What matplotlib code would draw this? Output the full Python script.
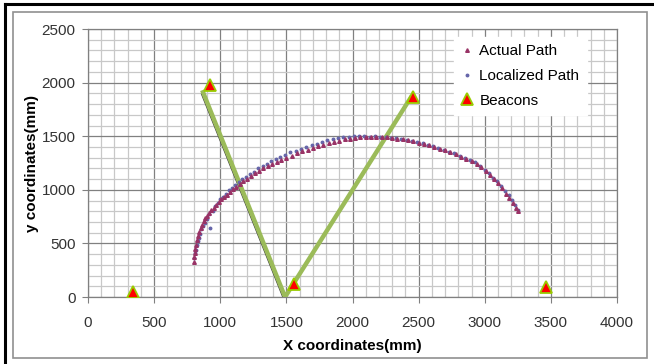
import numpy as np
import matplotlib.pyplot as plt
import matplotlib.patheffects as pe
from matplotlib.patches import Rectangle
from matplotlib.ticker import MultipleLocator

plt.rcParams['font.family'] = ['Liberation Sans', 'DejaVu Sans']

# actual path (red triangles)
actual_x = [800, 803, 807, 812, 818, 825, 833, 842, 852, 863, 875, 888, 902, 917, 933,
            950, 968, 987, 1007, 1028, 1050, 1073, 1097, 1122, 1148, 1175, 1203, 1232,
            1262, 1293, 1325, 1358, 1392, 1427, 1463, 1500, 1540, 1580, 1620, 1660, 1700,
            1740, 1780, 1820, 1860, 1900, 1940, 1980, 2020, 2060, 2100, 2140, 2180, 2220,
            2260, 2300, 2340, 2380, 2420, 2460, 2500, 2540, 2580, 2620, 2660, 2700, 2740,
            2780, 2820, 2860, 2900, 2940, 2975, 3010, 3040, 3070, 3100, 3130, 3160, 3185,
            3210, 3235, 3255]
actual_y = [330, 370, 410, 450, 490, 530, 570, 605, 640, 675, 705, 735, 760, 785, 810,
            835, 860, 885, 910, 930, 955, 980, 1005, 1030, 1055, 1080, 1105, 1130,
            1155, 1180, 1200, 1220, 1240, 1260, 1280, 1300, 1320, 1340, 1360, 1375, 1390,
            1405, 1420, 1435, 1450, 1460, 1470, 1478, 1485, 1490, 1492, 1494, 1495, 1493,
            1490, 1485, 1478, 1470, 1462, 1452, 1440, 1428, 1415, 1400, 1385, 1368, 1350,
            1330, 1310, 1288, 1265, 1240, 1210, 1175, 1140, 1100, 1060, 1015, 965, 920,
            875, 830, 800]

# localized path (blue dots)
local_x = [805, 810, 815, 822, 830, 838, 847, 858, 870, 883, 897, 912, 925, 945, 962,
           980, 1000, 1020, 1042, 1065, 1090, 1115, 1140, 1168, 1195, 1225, 1255, 1288,
           1320, 1352, 1385, 1420, 1455, 1490, 1530, 1570, 1610, 1650, 1690, 1730, 1770,
           1810, 1850, 1890, 1930, 1970, 2010, 2050, 2090, 2130, 2170, 2210, 2250, 2290,
           2330, 2370, 2410, 2450, 2490, 2530, 2570, 2610, 2650, 2690, 2730, 2770, 2810,
           2850, 2890, 2930, 2965, 3000, 3030, 3060, 3090, 3120, 3150, 3180, 3205, 3230, 3250]
local_y = [360, 410, 440, 490, 520, 555, 590, 630, 665, 690, 730, 770, 640, 800, 845,
           880, 915, 935, 960, 995, 1020, 1045, 1075, 1100, 1120, 1145, 1170, 1200,
           1225, 1245, 1265, 1285, 1305, 1325, 1350, 1365, 1385, 1400, 1415, 1430, 1450,
           1462, 1472, 1482, 1490, 1492, 1498, 1498, 1500, 1496, 1500, 1495, 1490, 1484,
           1485, 1472, 1466, 1460, 1445, 1436, 1418, 1408, 1392, 1376, 1350, 1340, 1318,
           1298, 1275, 1255, 1222, 1188, 1155, 1115, 1080, 1035, 990, 950, 905, 855, 815]

# robot trajectory (green line)
traj_x = [870, 1490, 2440]
traj_y = [1910, 0, 1860]

# beacons
beacon_x = [340, 920, 1560, 2460, 3460]
beacon_y = [50, 1975, 120, 1865, 90]

fig = plt.figure(figsize=(6.54, 3.64), dpi=100)
ax = fig.add_axes([0.1346, 0.184, 0.8088, 0.7362])

# frames around the chart
fig.patches.append(Rectangle((0.02, 0.017), 0.969, 0.95, transform=fig.transFigure,
                             fill=False, edgecolor='#909090', linewidth=1.2))
fig.add_artist(plt.Line2D([0.008, 1.0], [0.988, 0.988], color='black', linewidth=2.2))
fig.add_artist(plt.Line2D([0.008, 0.008], [0.0, 0.988], color='black', linewidth=2.2))

ax.set_xlim(0, 4000)
ax.set_ylim(0, 2500)
ax.xaxis.set_major_locator(MultipleLocator(500))
ax.yaxis.set_major_locator(MultipleLocator(500))
ax.xaxis.set_minor_locator(MultipleLocator(100))
ax.yaxis.set_minor_locator(MultipleLocator(100))
ax.grid(which='minor', color='#c8c8c8', linewidth=0.9)
ax.grid(which='major', color='#808080', linewidth=0.9)
ax.set_axisbelow(True)
for s in ax.spines.values():
    s.set_color('#808080')
    s.set_linewidth(0.9)
ax.tick_params(which='major', length=4, color='#808080', labelsize=11,
               labelcolor='#333333')
ax.tick_params(axis='x', which='major', pad=10)
ax.tick_params(axis='y', which='major', pad=5)
ax.tick_params(which='minor', length=0)

ax.plot(traj_x, traj_y, color='#9bbb59', linewidth=3.2, zorder=3,
        path_effects=[pe.SimpleLineShadow(offset=(-1.2, -1.2), shadow_color='#404040',
                                          alpha=1, linewidth=0.8), pe.Normal()])

ax.plot(local_x, local_y, linestyle='none', marker='o', markersize=1.8,
        color='#6666aa', label='Localized Path', zorder=4)
ax.plot(actual_x, actual_y, linestyle='none', marker='^', markersize=2.6,
        color='#993366', label='Actual Path', zorder=4)
ax.plot(beacon_x, beacon_y, linestyle='none', marker='^', markersize=9,
        markerfacecolor='red', markeredgecolor='#99cc00', markeredgewidth=1.3,
        label='Beacons', zorder=5)

h, l = ax.get_legend_handles_labels()
order = [1, 0, 2]
lgd = ax.legend([h[i] for i in order], [l[i] for i in order], loc='upper right',
                bbox_to_anchor=(0.958, 1.0), frameon=True, fancybox=False,
                edgecolor='white', framealpha=1, fontsize=11, handlelength=0.8,
                handletextpad=0.4, labelspacing=0.7, borderpad=0.5)

ax.set_xlabel('X coordinates(mm)', fontsize=11, fontweight='bold', labelpad=6)
ax.set_ylabel('y coordinates(mm)', fontsize=11, fontweight='bold', labelpad=2)

fig.savefig('out.png', dpi=100)
